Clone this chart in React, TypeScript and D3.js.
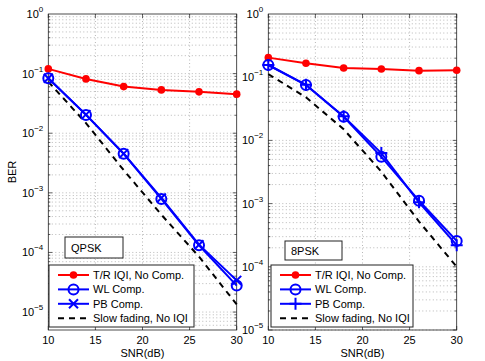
import React from 'react';
import * as d3 from 'd3';

const snr = [10, 14, 18, 22, 26, 30];

// QPSK panel
const qpskNoComp = [0.12, 0.0815, 0.0606, 0.0533, 0.0494, 0.0452];
const qpskWL = [0.0837, 0.0203, 0.00452, 7.9e-4, 1.32e-4, 2.78e-5];
const qpskPB = [0.0837, 0.0205, 0.00455, 8.2e-4, 1.35e-4, 3.4e-5];
const qpskNoIQI = [0.073, 0.0148, 0.0024, 4.3e-4, 8.5e-5, 1.34e-5];

// 8PSK panel
const psk8NoComp = [0.204, 0.166, 0.14, 0.135, 0.127, 0.129];
const psk8WL = [0.156, 0.075, 0.0237, 0.0055, 1.11e-3, 2.57e-4];
const psk8PB = [0.156, 0.076, 0.024, 0.0063, 1.05e-3, 2.2e-4];
const psk8NoIQI = [0.112, 0.048, 0.015, 0.0032, 5.2e-4, 1.0e-4];

const legendLabels = ['T/R IQI, No Comp.', 'WL Comp.', 'PB Comp.', 'Slow fading, No IQI'];
const xTicks = [10, 15, 20, 25, 30];

const FONT = '"Liberation Sans", Arial, sans-serif';

type PanelProps = {
  left: number;
  right: number;
  yMin: number;
  yTicks: number[];
  noComp: number[];
  wl: number[];
  pb: number[];
  noIQI: number[];
  pbMarker: 'x' | '+';
  tag: string;
  tagBox: [number, number, number, number];
  legendBox: [number, number, number, number];
};

const top = 14;
const bottom = 330;

function Marker({ kind, x, y }: { kind: string; x: number; y: number }) {
  if (kind === 'dot') return <circle cx={x} cy={y} r={3.8} fill="#ff0000" />;
  if (kind === 'o') return <circle cx={x} cy={y} r={5} fill="none" stroke="#0000ff" strokeWidth={2} />;
  const s = kind === 'x' ? 4.5 : 6;
  if (kind === 'x')
    return (
      <path d={`M${x - s},${y - s}L${x + s},${y + s}M${x - s},${y + s}L${x + s},${y - s}`} stroke="#0000ff" strokeWidth={2} />
    );
  return <path d={`M${x - s},${y}L${x + s},${y}M${x},${y - s}L${x},${y + s}`} stroke="#0000ff" strokeWidth={2} />;
}

function Panel(p: PanelProps) {
  const x = d3.scaleLinear().domain([10, 30]).range([p.left, p.right]);
  const y = d3.scaleLog().domain([p.yMin, 1]).range([bottom, top]);
  const line = (vals: number[]) =>
    d3.line<number>().x((_, i) => x(snr[i])).y(d => y(d))(vals) || '';

  const minor: number[] = [];
  for (let e = -6; e < 0; e++) {
    for (let k = 1; k < 10; k++) {
      const v = k * Math.pow(10, e);
      if (v >= p.yMin && v < 1) minor.push(v);
    }
  }

  const series = [
    { vals: p.noComp, color: '#ff0000', marker: 'dot', dash: undefined },
    { vals: p.wl, color: '#0000ff', marker: 'o', dash: undefined },
    { vals: p.pb, color: '#0000ff', marker: p.pbMarker, dash: undefined },
    { vals: p.noIQI, color: '#000000', marker: '', dash: '6,5' },
  ];

  const [lx, ly, lw, lh] = p.legendBox;
  const [tx, ty, tw, th] = p.tagBox;

  return (
    <g fontFamily={FONT}>
      {/* grid */}
      {minor.map(v => (
        <line key={'g' + v} x1={p.left} x2={p.right} y1={y(v)} y2={y(v)} stroke="#9a9a9a" strokeWidth={0.7} strokeDasharray="1,2.5" />
      ))}
      {xTicks.slice(1, -1).map(t => (
        <line key={'gx' + t} x1={x(t)} x2={x(t)} y1={top} y2={bottom} stroke="#9a9a9a" strokeWidth={0.7} strokeDasharray="1,2.5" />
      ))}
      {/* ticks */}
      {minor.map(v => {
        const major = Math.abs(Math.log10(v) - Math.round(Math.log10(v))) < 1e-9;
        const len = major ? 4 : 2;
        return (
          <g key={'t' + v} stroke="#222" strokeWidth={0.7}>
            <line x1={p.left} x2={p.left + len} y1={y(v)} y2={y(v)} />
            <line x1={p.right} x2={p.right - len} y1={y(v)} y2={y(v)} />
          </g>
        );
      })}
      {xTicks.map(t => (
        <g key={'tx' + t} stroke="#222" strokeWidth={0.7}>
          <line x1={x(t)} x2={x(t)} y1={bottom} y2={bottom - 4} />
          <line x1={x(t)} x2={x(t)} y1={top} y2={top + 4} />
        </g>
      ))}
      <rect x={p.left} y={top} width={p.right - p.left} height={bottom - top} fill="none" stroke="#222" strokeWidth={0.8} />
      {/* tick labels */}
      {p.yTicks.map(e => (
        <text key={'yl' + e} x={p.left - 5} y={y(Math.pow(10, e)) + 4} fontSize={11} textAnchor="end">
          10
          <tspan fontSize={8} dy={-6}>{e === 0 ? '0' : '\u2212' + -e}</tspan>
        </text>
      ))}
      {xTicks.map(t => (
        <text key={'xl' + t} x={x(t)} y={bottom + 14} fontSize={11} textAnchor="middle">
          {t}
        </text>
      ))}
      <text x={(p.left + p.right) / 2} y={bottom + 27} fontSize={11} textAnchor="middle">
        SNR(dB)
      </text>
      {/* series */}
      {series.map((s, i) => (
        <path key={'s' + i} d={line(s.vals)} fill="none" stroke={s.color} strokeWidth={2} strokeDasharray={s.dash} />
      ))}
      {series.map((s, i) =>
        s.marker ? s.vals.map((v, j) => <Marker key={'m' + i + j} kind={s.marker} x={x(snr[j])} y={y(v)} />) : null
      )}
      {/* tag box */}
      <rect x={tx} y={ty} width={tw} height={th} fill="#fff" stroke="#222" strokeWidth={1} />
      <text x={tx + 6} y={ty + th / 2 + 4} fontSize={11}>
        {p.tag}
      </text>
      {/* legend */}
      <rect x={lx} y={ly} width={lw} height={lh} fill="#fff" stroke="#222" strokeWidth={1} />
      {series.map((s, i) => {
        const ry = ly + 10 + i * 14.4;
        const x0 = lx + 9;
        const x1 = lx + 40;
        return (
          <g key={'l' + i}>
            <line x1={x0} x2={x1} y1={ry} y2={ry} stroke={s.color} strokeWidth={2} strokeDasharray={s.dash} />
            {s.marker ? <Marker kind={s.marker} x={(x0 + x1) / 2} y={ry} /> : null}
            <text x={x1 + 4} y={ry + 4} fontSize={11}>
              {legendLabels[i]}
            </text>
          </g>
        );
      })}
    </g>
  );
}

export default function App() {
  return (
    <svg width={485} height={361} style={{ position: 'absolute', left: 0, top: 0, background: '#fff' }}>
      <text transform="translate(16,172) rotate(-90)" fontSize={11} textAnchor="middle" fontFamily={FONT}>
        BER
      </text>
      <Panel
        left={48.3}
        right={236.7}
        yMin={5e-6}
        yTicks={[0, -1, -2, -3, -4, -5]}
        noComp={qpskNoComp}
        wl={qpskWL}
        pb={qpskPB}
        noIQI={qpskNoIQI}
        pbMarker="x"
        tag="QPSK"
        tagBox={[65, 237, 58, 21]}
        legendBox={[49, 265, 145, 62]}
      />
      <Panel
        left={268.3}
        right={456.7}
        yMin={1e-5}
        yTicks={[0, -1, -2, -3, -4, -5]}
        noComp={psk8NoComp}
        wl={psk8WL}
        pb={psk8PB}
        noIQI={psk8NoIQI}
        pbMarker="+"
        tag="8PSK"
        tagBox={[285, 241, 57, 19]}
        legendBox={[271, 265, 142, 62]}
      />
    </svg>
  );
}
